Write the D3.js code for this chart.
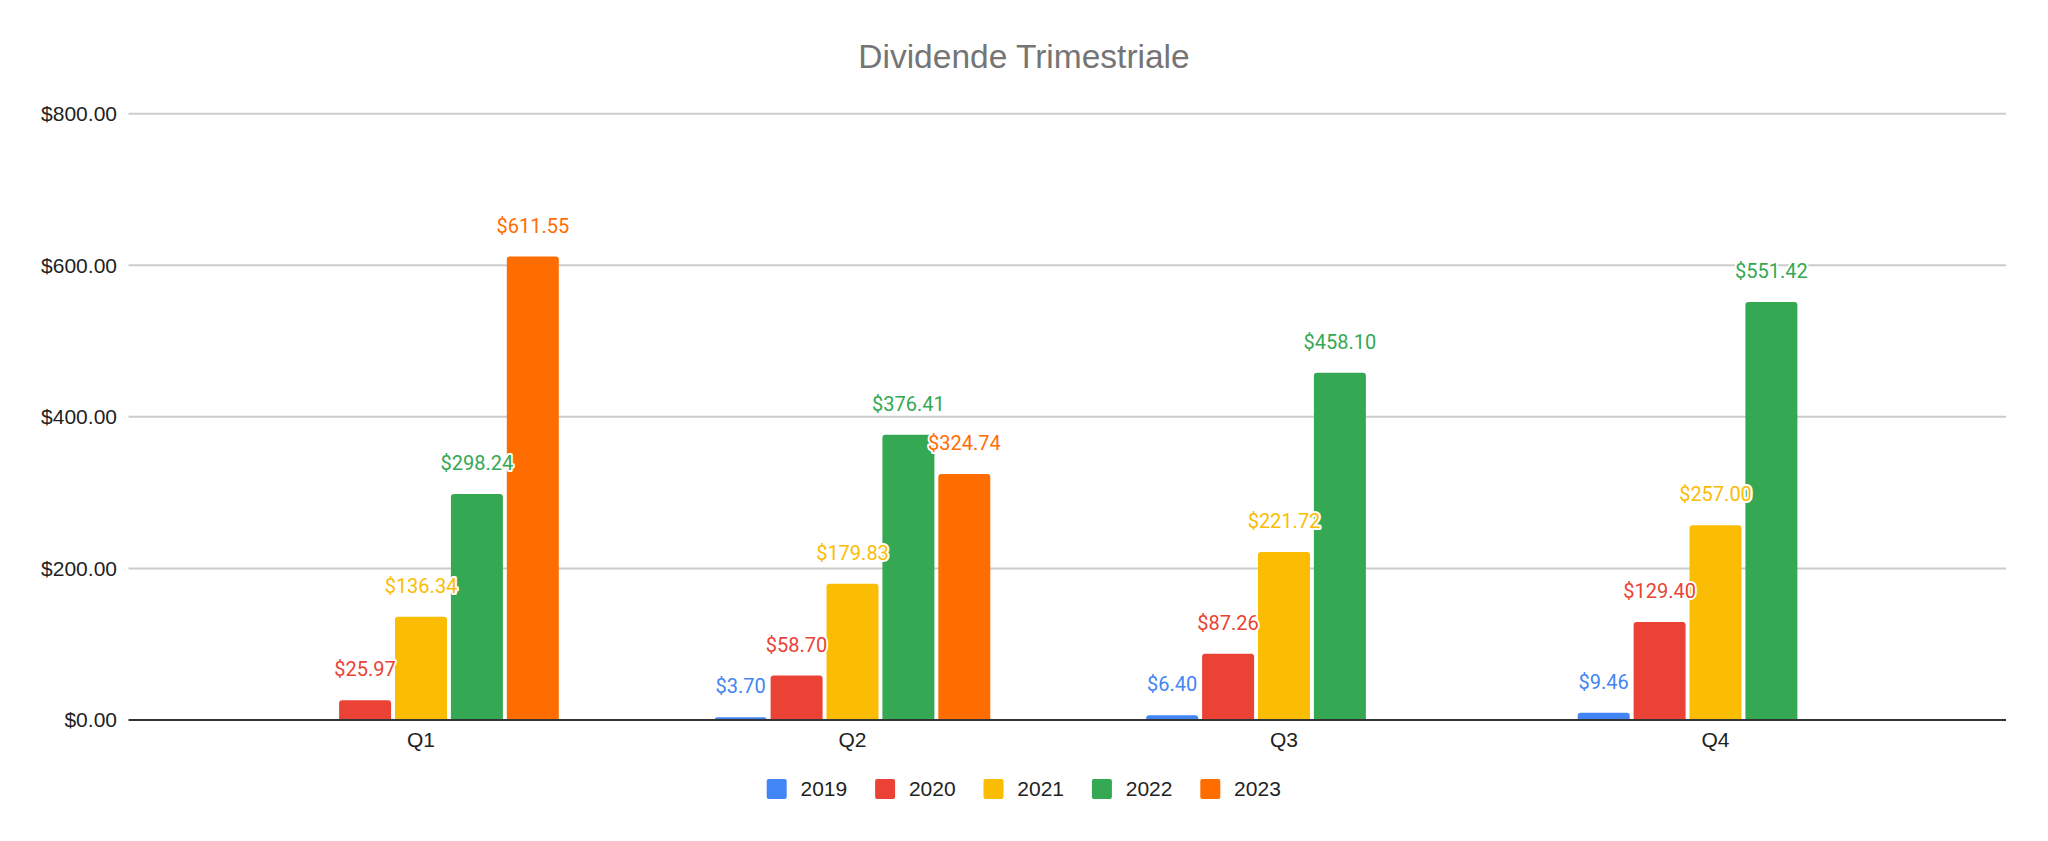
<!DOCTYPE html>
<html>
<head>
<meta charset="utf-8">
<script src="https://cdn.jsdelivr.net/npm/d3@7"></script>
<style>
  html, body { margin: 0; padding: 0; background: #ffffff; }
  svg { display: block; }
</style>
</head>
<body>
<svg id="chart" width="2048" height="841"></svg>
<script>
// ---- data ----
const title = "Dividende Trimestriale";
const quarters = ["Q1", "Q2", "Q3", "Q4"];
const years = ["2019", "2020", "2021", "2022", "2023"];
const values2019 = [null, 3.70, 6.40, 9.46];
const values2020 = [25.97, 58.70, 87.26, 129.40];
const values2021 = [136.34, 179.83, 221.72, 257.00];
const values2022 = [298.24, 376.41, 458.10, 551.42];
const values2023 = [611.55, 324.74, null, null];
const yTicks = [0, 200, 400, 600, 800];
const colors = ["#4285F4", "#EA4335", "#FBBC04", "#34A853", "#FF6D01"];

const seriesValues = [values2019, values2020, values2021, values2022, values2023];
const rows = [];
years.forEach((y, si) => {
  quarters.forEach((q, qi) => {
    const v = seriesValues[si][qi];
    if (v !== null && v !== undefined) rows.push({ year: y, quarter: q, value: v, si });
  });
});

// ---- layout ----
const svg = d3.select("#chart");
const plotLeft = 128.5, plotRight = 2006, plotTop = 113.7, plotBottom = 720;

const y = d3.scaleLinear().domain([0, 800]).range([plotBottom, plotTop]);
const x = d3.scaleBand().domain(quarters).range([205.25, 1931.25]).paddingInner(0).paddingOuter(0);
const groupW = 279.5;
const xi = d3.scaleBand().domain(years).range([-groupW / 2, groupW / 2]).paddingInner(0.07).paddingOuter(0.035);
const fmt = v => "$" + d3.format(",.2f")(v);
const arial = "'Liberation Sans', Arial, sans-serif";

// title
svg.append("text")
  .attr("x", 1024).attr("y", 68)
  .attr("text-anchor", "middle")
  .attr("font-family", arial)
  .attr("font-size", 33.5)
  .attr("fill", "#757575")
  .text(title);

// gridlines
svg.append("g").selectAll("line").data(yTicks.filter(t => t !== 0)).join("line")
  .attr("x1", plotLeft).attr("x2", plotRight)
  .attr("y1", d => y(d)).attr("y2", d => y(d))
  .attr("stroke", "#cccccc").attr("stroke-width", 2);

// y axis labels
const yAxis = d3.axisLeft(y).tickValues(yTicks).tickSize(0).tickPadding(0).tickFormat(fmt);
const yg = svg.append("g").attr("transform", `translate(${plotLeft - 11.5},0)`).call(yAxis);
yg.select(".domain").remove();
yg.selectAll("text")
  .attr("font-family", arial)
  .attr("font-size", 21)
  .attr("fill", "#222222");

// bars
function barPath(x0, w, yTop, yBase, r) {
  const h = yBase - yTop;
  r = Math.min(r, h, w / 2);
  return `M${x0},${yBase}V${yTop + r}Q${x0},${yTop} ${x0 + r},${yTop}H${x0 + w - r}Q${x0 + w},${yTop} ${x0 + w},${yTop + r}V${yBase}Z`;
}
const cx = d => x(d.quarter) + x.bandwidth() / 2;
svg.append("g").selectAll("path").data(rows).join("path")
  .attr("d", d => barPath(cx(d) + xi(d.year), xi.bandwidth(), y(d.value), y(0), 3))
  .attr("fill", d => colors[d.si]);

// baseline
svg.append("line")
  .attr("x1", plotLeft).attr("x2", plotRight)
  .attr("y1", y(0)).attr("y2", y(0))
  .attr("stroke", "#333333").attr("stroke-width", 2);

// x axis labels
const xAxis = d3.axisBottom(x).tickSize(0).tickPadding(0);
const xg = svg.append("g").attr("transform", `translate(0,${y(0)})`).call(xAxis);
xg.select(".domain").remove();
xg.selectAll("text")
  .attr("dy", null).attr("y", 27)
  .attr("font-family", arial)
  .attr("font-size", 21)
  .attr("fill", "#222222");

// value labels
const lg = svg.append("g");
lg.selectAll("text").data(rows).join("text")
  .attr("x", d => cx(d) + xi(d.year) + xi.bandwidth() / 2)
  .attr("y", d => y(d.value) - 24)
  .attr("text-anchor", "middle")
  .attr("font-family", "Roboto, sans-serif")
  .attr("font-size", 20)
  .attr("fill", d => colors[d.si])
  .attr("stroke", "#ffffff").attr("stroke-width", 4)
  .attr("stroke-linejoin", "round")
  .attr("paint-order", "stroke")
  .text(d => fmt(d.value));

// legend
const legend = svg.append("g").attr("transform", "translate(766.7,779)");
const li = legend.selectAll("g").data(years).join("g")
  .attr("transform", (d, i) => `translate(${i * 108.4},0)`);
li.append("rect").attr("width", 20).attr("height", 20).attr("rx", 2)
  .attr("fill", (d, i) => colors[i]);
li.append("text").attr("x", 33.8).attr("y", 17)
  .attr("font-family", arial)
  .attr("font-size", 21)
  .attr("fill", "#222222")
  .text(d => d);
</script>
</body>
</html>
